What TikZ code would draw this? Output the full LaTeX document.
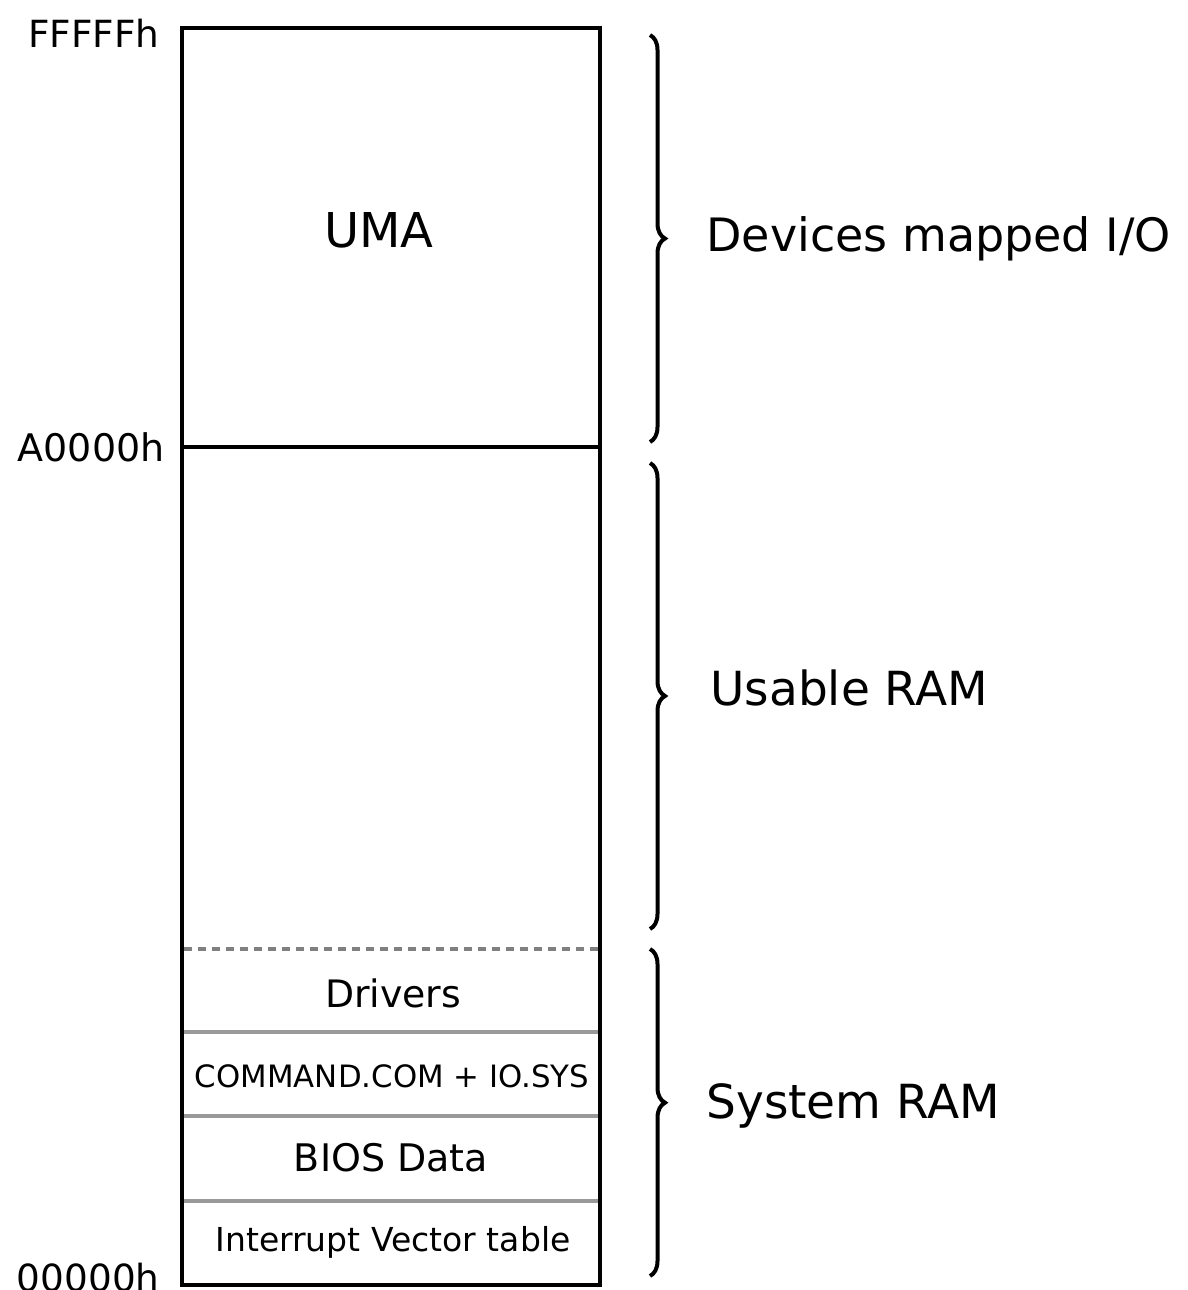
\documentclass[tikz,border=0pt]{standalone}
\usepackage{fontspec}
\setmainfont{DejaVu Sans}
\usetikzlibrary{decorations.pathreplacing}
\begin{document}
\begin{tikzpicture}[x=0.5pt,y=-0.5pt,
  frame/.style={line width=1.7pt,black},
  sep/.style={line width=1.6pt,gray!80},
  dsep/.style={line width=1.6pt,gray,dash pattern=on 4pt off 3pt},
  addr/.style={anchor=east,inner sep=0pt,font=\fontsize{18.7}{20}\selectfont},
  bigtxt/.style={anchor=west,inner sep=0pt,font=\fontsize{23.5}{26}\selectfont},
  curly/.style={line width=2pt,decorate,decoration={brace,amplitude=7.5pt}}]
\useasboundingbox (0,0) rectangle (1188,1290);
% separators
\draw[sep] (182,1032) -- (600,1032);
\draw[sep] (182,1116) -- (600,1116);
\draw[sep] (182,1201) -- (600,1201);
\draw[dsep] (184,949) -- (598,949);
\draw[frame] (182,447) -- (600,447);
\draw[frame] (182,28) rectangle (600,1285);
% region texts
\node (uma) at (379,230) {\fontsize{24}{26}\selectfont UMA};
\node (drv) at (393,993) {\fontsize{18.9}{20}\selectfont Drivers};
\node (cmd) at (392,1076) {\fontsize{15.4}{17}\selectfont COMMAND.COM + IO.SYS};
\node (bios) at (391,1158) {\fontsize{19}{20}\selectfont BIOS Data};
\node (ivt) at (393,1242) {\fontsize{16.5}{18}\selectfont Interrupt Vector table};
% addresses
\node[addr] (fff) at (160,33) {FFFFFh};
\node[addr,font=\fontsize{19}{20}\selectfont] (a00) at (165,447) {A0000h};
\node[addr] (z00) at (160,1278) {00000h};
% braces
\coordinate (b1t) at (650,35);
\coordinate (b1b) at (650,442);
\coordinate (b2t) at (650,463);
\coordinate (b2b) at (650,929);
\coordinate (b3t) at (650,949);
\coordinate (b3b) at (650,1276);
\draw[curly] (b1t) -- (b1b);
\draw[curly] (b2t) -- (b2b);
\draw[curly,decoration={aspect=0.47}] (b3t) -- (b3b);
% brace labels
\node[bigtxt,font=\fontsize{23}{26}\selectfont] (dev) at (706,239) {Devices mapped I/O};
\node[bigtxt] (usr) at (710,688) {Usable RAM};
\node[bigtxt] (sys) at (706,1106) {System RAM};
\end{tikzpicture}
\end{document}
